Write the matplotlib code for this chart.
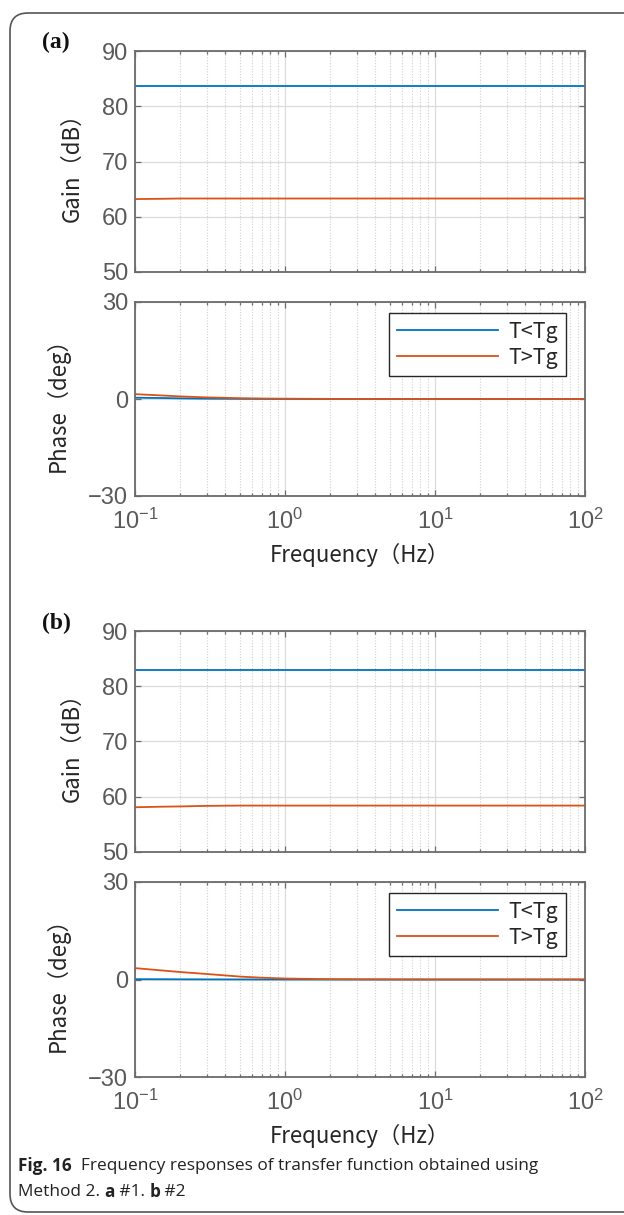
import numpy as np
import matplotlib
matplotlib.use("Agg")
import matplotlib.pyplot as plt
from matplotlib.patches import FancyBboxPatch
from matplotlib.transforms import IdentityTransform
from matplotlib.ticker import LogLocator, NullFormatter

# ---------------- data ----------------
freq = [0.1, 0.15, 0.2, 0.3, 0.5, 0.7, 1.0, 2.0, 5.0, 10.0, 100.0]

gain_a_low = [83.6, 83.6, 83.6, 83.6, 83.6, 83.6, 83.6, 83.6, 83.6, 83.6, 83.6]
gain_a_high = [63.2, 63.25, 63.3, 63.3, 63.3, 63.3, 63.3, 63.3, 63.3, 63.3, 63.3]
phase_a_low = [0.4, 0.3, 0.2, 0.1, 0.05, 0.03, 0.02, 0.0, 0.0, 0.0, 0.0]
phase_a_high = [1.5, 1.1, 0.8, 0.5, 0.25, 0.15, 0.1, 0.03, 0.0, 0.0, 0.0]

gain_b_low = [82.9, 82.9, 82.9, 82.9, 82.9, 82.9, 82.9, 82.9, 82.9, 82.9, 82.9]
gain_b_high = [58.1, 58.2, 58.25, 58.35, 58.4, 58.4, 58.4, 58.4, 58.4, 58.4, 58.4]
phase_b_low = [0.1, 0.08, 0.06, 0.04, 0.02, 0.01, 0.0, 0.0, 0.0, 0.0, 0.0]
phase_b_high = [3.5, 2.8, 2.3, 1.7, 0.9, 0.55, 0.3, 0.1, 0.02, 0.0, 0.0]

series_labels = ["T<Tg", "T>Tg"]
gain_ticks = [50, 60, 70, 80, 90]
phase_ticks = [-30, 0, 30]
panel_labels = ["(a)", "(b)"]

# ---------------- style ----------------
W, H = 624, 1215
DPI = 100
plt.rcParams['font.family'] = ['Liberation Sans', 'DejaVu Sans']
plt.rcParams['mathtext.fontset'] = 'custom'
plt.rcParams['mathtext.rm'] = 'Liberation Sans'
plt.rcParams['mathtext.it'] = 'Liberation Sans'
plt.rcParams['mathtext.bf'] = 'Liberation Sans:bold'

BLUE = '#0072BD'
ORANGE = '#D95319'
TICKC = '#5a5a5a'
SPINEC = '#6b6b6b'
LABELC = '#262626'
JP = ['Noto Sans CJK JP', 'DejaVu Sans']
TICKSIZE = 17

fig = plt.figure(figsize=(W / DPI, H / DPI), dpi=DPI)


def px_axes(left, top, right, bottom):
    return fig.add_axes([left / W, 1 - bottom / H, (right - left) / W, (bottom - top) / H])


def style_axes(ax, yticks, ylim):
    ax.set_xscale('log')
    ax.set_xlim(0.1, 100)
    ax.set_ylim(*ylim)
    ax.set_yticks(yticks)
    ax.xaxis.set_major_locator(LogLocator(base=10, numticks=10))
    ax.xaxis.set_minor_locator(LogLocator(base=10, subs=np.arange(2, 10), numticks=50))
    ax.xaxis.set_minor_formatter(NullFormatter())
    ax.grid(True, which='major', color='#dcdcdc', linewidth=0.9, linestyle='-')
    ax.grid(True, which='minor', axis='x', color='#d0d0d0', linewidth=0.8, linestyle=(0, (1, 1.5)))
    ax.set_axisbelow(True)
    ax.tick_params(which='both', direction='in', top=True, right=True, colors=SPINEC,
                   labelcolor=TICKC, labelsize=TICKSIZE, width=0.9)
    ax.tick_params(which='major', length=4)
    ax.tick_params(which='minor', length=2.5)
    ax.tick_params(axis='x', pad=9)
    ax.tick_params(axis='y', pad=5)
    for s in ax.spines.values():
        s.set_color(SPINEC)
        s.set_linewidth(1.3)


panels = [
    dict(gtop=51, gbot=272, ptop=302, pbot=496, gl=gain_a_low, gh=gain_a_high,
         pl=phase_a_low, ph=phase_a_high, lab_y=42, xlab_y=555),
    dict(gtop=631, gbot=852, ptop=882, pbot=1077, gl=gain_b_low, gh=gain_b_high,
         pl=phase_b_low, ph=phase_b_high, lab_y=623, xlab_y=1136),
]

L, R = 135, 585
for i, p in enumerate(panels):
    axg = px_axes(L, p['gtop'], R, p['gbot'])
    axg.plot(freq, p['gl'], color=BLUE, lw=1.3)
    axg.plot(freq, p['gh'], color=ORANGE, lw=1.3)
    style_axes(axg, gain_ticks, (50, 90))
    axg.set_xticks([0.1, 1, 10, 100])
    axg.set_xticklabels([])
    axg.set_ylabel('Gain（dB）', family=JP, fontsize=16, color=LABELC)
    axg.yaxis.set_label_coords((84 - L) / (R - L), 0.5)

    axp = px_axes(L, p['ptop'], R, p['pbot'])
    l1, = axp.plot(freq, p['pl'], color=BLUE, lw=1.3)
    l2, = axp.plot(freq, p['ph'], color=ORANGE, lw=1.3)
    style_axes(axp, phase_ticks, (-30, 30))
    axp.set_xticks([0.1, 1, 10, 100])
    axp.set_xticklabels([r'$10^{-1}$', r'$10^{0}$', r'$10^{1}$', r'$10^{2}$'])
    axp.set_yticklabels(['\u221230', '0', '30'])
    axp.set_ylabel('Phase（deg）', family=JP, fontsize=16, color=LABELC)
    axp.yaxis.set_label_coords((70 - L) / (R - L), 0.5)
    leg = axp.legend([l1, l2], series_labels, loc='upper right',
                     bbox_to_anchor=((566 - L) / (R - L), (p['pbot'] - (p['ptop'] + 11)) / (p['pbot'] - p['ptop'])),
                     borderaxespad=0, frameon=True, fancybox=False, framealpha=1,
                     handlelength=4.7, handletextpad=0.5, borderpad=0.35, labelspacing=0.2,
                     prop={'family': JP, 'size': 15.5})
    leg.get_frame().set_edgecolor('#262626')
    leg.get_frame().set_linewidth(1.0)
    for t in leg.get_texts():
        t.set_color(LABELC)

    fig.text((L + R) / 2 / W, 1 - p['xlab_y'] / H, 'Frequency（Hz）', family=JP, fontsize=16,
             color=LABELC, ha='center', va='center')
    fig.text(56 / W, 1 - p['lab_y'] / H, panel_labels[i], family=['Liberation Serif'],
             fontweight='bold', fontsize=17, color='#111111', ha='center', va='center')

# frame
frame = FancyBboxPatch((10, 3), 650, 1199, boxstyle='round,pad=0,rounding_size=18',
                       transform=IdentityTransform(), fill=False, edgecolor='#555555',
                       linewidth=1.2, clip_on=False)
fig.patches.append(frame)

# caption with mixed bold
fig.canvas.draw()
renderer = fig.canvas.get_renderer()
CAPF = ['Open Sans', 'DejaVu Sans']


def write_runs(x_px, y_px, runs):
    x = x_px
    for txt, bold in runs:
        t = fig.text(x / W, 1 - y_px / H, txt, family=CAPF, fontsize=12.4,
                     fontweight='bold' if bold else 'normal', color='#222222',
                     ha='left', va='center')
        bb = t.get_window_extent(renderer=renderer)
        x += bb.width


write_runs(18, 1166, [('Fig. 16', True), ('  Frequency responses of transfer function obtained using', False)])
write_runs(18, 1192, [('Method 2. ', False), ('a', True), (' #1. ', False), ('b', True), (' #2', False)])

fig.savefig('out.png', dpi=DPI)
